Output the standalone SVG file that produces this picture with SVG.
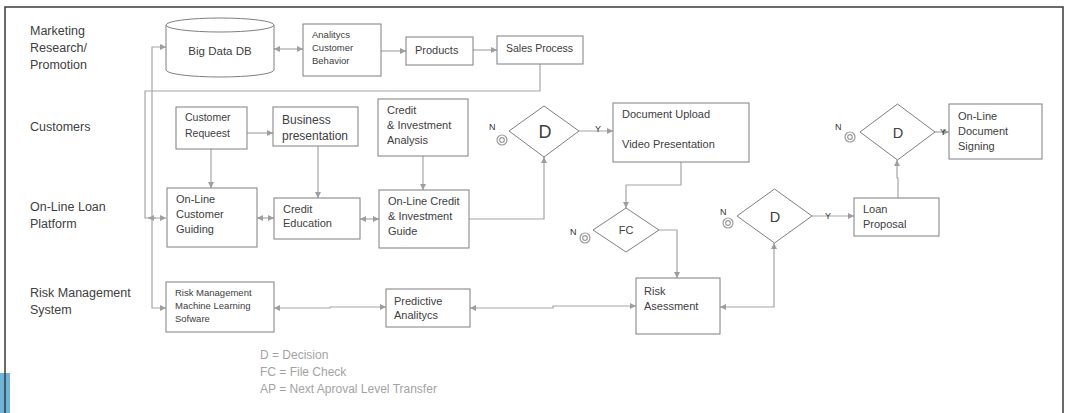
<svg xmlns="http://www.w3.org/2000/svg" width="1066" height="413" viewBox="0 0 1066 413">
  <style>
    text { font-family: "Liberation Sans", Arial, sans-serif; fill: #404040; }
    .lane { font-size: 12.5px; }
    .t11 { font-size: 11px; }
    .t10 { font-size: 10.5px; }
    .t9 { font-size: 9.5px; }
    .big { font-size: 11.5px; }
    .dec { text-anchor: middle; }
    .ny { font-size: 9px; fill: #333; }
    .legend { font-size: 12px; fill: #a3a3a3; }
    .box { fill: #fff; stroke: #7f7f7f; stroke-width: 1; }
    .conn { fill: none; stroke: #a6a6a6; stroke-width: 1.2; }
    .term { fill: none; stroke: #9a9a9a; stroke-width: 1.2; }
  </style>
  <defs>
    <marker id="arr" viewBox="0 0 8 8" refX="8" refY="4" markerWidth="7" markerHeight="6" markerUnits="userSpaceOnUse" orient="auto-start-reverse">
      <path d="M0,0 L8,4 L0,8 z" fill="#9e9e9e"/>
    </marker>
    <g id="stop">
      <circle r="5" class="term"/>
      <circle r="2.3" class="term"/>
    </g>
  </defs>

  <rect width="1066" height="413" fill="#fff"/>
  <!-- slide accent and frame -->
  <rect x="0" y="373" width="10" height="40" fill="#6cb4da"/>
  <path d="M5,413 V7 H1063 V413" fill="none" stroke="#3a3a3a" stroke-width="1.5"/>

  <!-- swim lane titles -->
  <g id="lanes">
    <text class="lane" x="30" y="35">Marketing</text>
    <text class="lane" x="30" y="52">Research/</text>
    <text class="lane" x="30" y="69">Promotion</text>
    <text class="lane" x="30" y="131">Customers</text>
    <text class="lane" x="30" y="211">On-Line Loan</text>
    <text class="lane" x="30" y="228">Platform</text>
    <text class="lane" x="30" y="297">Risk Management</text>
    <text class="lane" x="30" y="314">System</text>
  </g>

  <!-- connectors -->
  <g id="connectors">
    <path class="conn" d="M274,49 H303" marker-start="url(#arr)" marker-end="url(#arr)"/>
    <path class="conn" d="M381,51 H406" marker-end="url(#arr)"/>
    <path class="conn" d="M473,50 H497" marker-end="url(#arr)"/>
    <path class="conn" d="M540,64 V91 H145 V218 H166" marker-end="url(#arr)"/>
    <path class="conn" d="M156,218 H148" marker-end="url(#arr)"/>
    <path class="conn" d="M166,47 H152 V308 H166" marker-start="url(#arr)" marker-end="url(#arr)"/>
    <path class="conn" d="M247,133 H273" marker-end="url(#arr)"/>
    <path class="conn" d="M211,149 V188" marker-end="url(#arr)"/>
    <path class="conn" d="M318,146 V198" marker-end="url(#arr)"/>
    <path class="conn" d="M257,218 H274" marker-start="url(#arr)" marker-end="url(#arr)"/>
    <path class="conn" d="M423,156 V190" marker-end="url(#arr)"/>
    <path class="conn" d="M360,219 H379" marker-start="url(#arr)" marker-end="url(#arr)"/>
    <path class="conn" d="M469,219 H544 V157" marker-end="url(#arr)"/>
    <path class="conn" d="M579,131 H613" marker-end="url(#arr)"/>
    <path class="conn" d="M681,162 V185 H626 V208" marker-end="url(#arr)"/>
    <path class="conn" d="M659,230 H677 V278" marker-end="url(#arr)"/>
    <path class="conn" d="M274,308 H330 V307 H386" marker-start="url(#arr)" marker-end="url(#arr)"/>
    <path class="conn" d="M470,308 H553 V306 H636" marker-start="url(#arr)" marker-end="url(#arr)"/>
    <path class="conn" d="M720,307 H774 V243" marker-start="url(#arr)" marker-end="url(#arr)"/>
    <path class="conn" d="M812,216 H854" marker-end="url(#arr)"/>
    <path class="conn" d="M898,198 V178 H897 V160" marker-end="url(#arr)"/>
    <path class="conn" d="M935,132 H949" marker-end="url(#arr)"/>
  </g>

  <!-- marketing lane -->
  <g id="big-data-db">
    <path class="box" d="M166,25 V70 A54,7 0 0 0 274,70 V25"/>
    <ellipse class="box" cx="220" cy="25" rx="54" ry="7"/>
    <text class="big" x="220" y="55" text-anchor="middle">Big Data DB</text>
  </g>
  <g id="analitycs-behavior">
    <rect class="box" x="303" y="24" width="78" height="52"/>
    <text class="t9" x="312" y="38">Analitycs</text>
    <text class="t9" x="312" y="51">Customer</text>
    <text class="t9" x="312" y="64">Behavior</text>
  </g>
  <g id="products">
    <rect class="box" x="406" y="37" width="67" height="28"/>
    <text class="t11" x="415" y="54">Products</text>
  </g>
  <g id="sales-process">
    <rect class="box" x="497" y="36" width="86" height="28"/>
    <text class="t10" x="506" y="52">Sales Process</text>
  </g>

  <!-- customers lane -->
  <g id="customer-request">
    <rect class="box" x="176" y="107" width="71" height="42"/>
    <text class="t10" x="185" y="121">Customer</text>
    <text class="t10" x="185" y="137">Requeest</text>
  </g>
  <g id="business-presentation">
    <rect class="box" x="273" y="107" width="85" height="39"/>
    <text class="t11" x="282" y="124" style="font-size:12px">Business</text>
    <text class="t11" x="282" y="140" style="font-size:12px">presentation</text>
  </g>
  <g id="credit-investment-analysis">
    <rect class="box" x="378" y="99" width="90" height="57"/>
    <text class="t11" x="387" y="114">Credit</text>
    <text class="t11" x="387" y="129">&amp; Investment</text>
    <text class="t11" x="387" y="144">Analysis</text>
  </g>
  <g id="decision-1">
    <polygon class="box" points="544,106 579,131 544,157 509,131"/>
    <text class="dec" x="545" y="138" style="font-size:18px">D</text>
    <text class="ny" x="489" y="130">N</text>
    <use href="#stop" x="502" y="140"/>
    <text class="ny" x="595" y="132">Y</text>
  </g>
  <g id="document-upload">
    <rect class="box" x="613" y="103" width="136" height="59"/>
    <text class="t11" x="622" y="118">Document Upload</text>
    <text class="t11" x="622" y="148">Video Presentation</text>
  </g>
  <g id="decision-4">
    <polygon class="box" points="897.5,104 935,132 897.5,160 860,132"/>
    <text class="dec" x="898" y="138" style="font-size:14.5px">D</text>
    <text class="ny" x="835" y="130">N</text>
    <use href="#stop" x="850" y="137"/>
    <text class="ny" x="940" y="135">Y</text>
  </g>
  <g id="document-signing">
    <rect class="box" x="949" y="104" width="93" height="55"/>
    <text class="t11" x="958" y="120">On-Line</text>
    <text class="t11" x="958" y="135">Document</text>
    <text class="t11" x="958" y="150">Signing</text>
  </g>

  <!-- on-line loan platform lane -->
  <g id="customer-guiding">
    <rect class="box" x="167" y="188" width="90" height="59"/>
    <text class="t11" x="176" y="203">On-Line</text>
    <text class="t11" x="176" y="218">Customer</text>
    <text class="t11" x="176" y="233">Guiding</text>
  </g>
  <g id="credit-education">
    <rect class="box" x="274" y="198" width="86" height="41"/>
    <text class="t11" x="283" y="213">Credit</text>
    <text class="t11" x="283" y="227">Education</text>
  </g>
  <g id="credit-investment-guide">
    <rect class="box" x="379" y="190" width="90" height="58"/>
    <text class="t11" x="388" y="205">On-Line Credit</text>
    <text class="t11" x="388" y="220">&amp; Investment</text>
    <text class="t11" x="388" y="235">Guide</text>
  </g>
  <g id="file-check">
    <polygon class="box" points="626,208 659,230 626,252 593,230"/>
    <text class="dec t11" x="626" y="234">FC</text>
    <text class="ny" x="570" y="235">N</text>
    <use href="#stop" x="585" y="238"/>
  </g>
  <g id="decision-3">
    <polygon class="box" points="774.5,189 812,216 774.5,243 737,216"/>
    <text class="dec" x="775" y="222" style="font-size:14.5px">D</text>
    <text class="ny" x="720" y="215">N</text>
    <use href="#stop" x="728" y="223"/>
    <text class="ny" x="825" y="219">Y</text>
  </g>
  <g id="loan-proposal">
    <rect class="box" x="854" y="198" width="85" height="38"/>
    <text class="t11" x="863" y="213">Loan</text>
    <text class="t11" x="863" y="228">Proposal</text>
  </g>

  <!-- risk management lane -->
  <g id="risk-ml-software">
    <rect class="box" x="166" y="282" width="108" height="50"/>
    <text class="t9" x="175" y="296">Risk Management</text>
    <text class="t9" x="175" y="309">Machine Learning</text>
    <text class="t9" x="175" y="322">Sofware</text>
  </g>
  <g id="predictive-analitycs">
    <rect class="box" x="386" y="289" width="84" height="38"/>
    <text class="t11" x="394" y="305">Predictive</text>
    <text class="t11" x="394" y="319">Analitycs</text>
  </g>
  <g id="risk-assessment">
    <rect class="box" x="636" y="278" width="84" height="56"/>
    <text class="t11" x="644" y="295">Risk</text>
    <text class="t11" x="644" y="310">Asessment</text>
  </g>

  <!-- abbreviations -->
  <g id="legend">
    <text class="legend" x="260" y="359">D = Decision</text>
    <text class="legend" x="260" y="376">FC = File Check</text>
    <text class="legend" x="260" y="393">AP = Next Aproval Level Transfer</text>
  </g>
</svg>
